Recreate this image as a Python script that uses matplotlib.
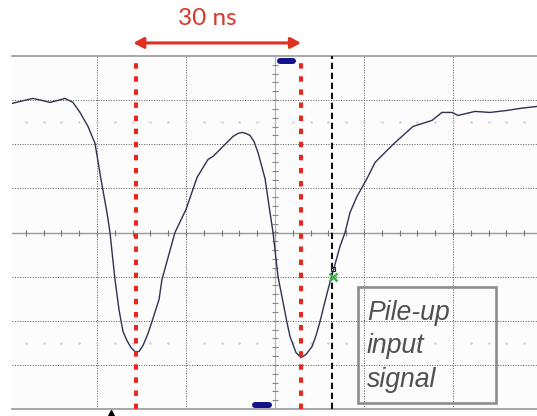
import numpy as np
import matplotlib
matplotlib.use("Agg")
import matplotlib.pyplot as plt
from matplotlib.patches import Rectangle

# scope trace in divisions (x: time div, y: volt div)
t_div = [-2.955, -2.865, -2.719, -2.618, -2.528, -2.438, -2.360, -2.270, -2.191,
         -2.101, -2.022, -1.955, -1.888, -1.854, -1.798, -1.753, -1.708, -1.663,
         -1.618, -1.573, -1.528, -1.483, -1.427, -1.382, -1.303, -1.270, -1.124,
         -1.000, -0.876, -0.753, -0.697, -0.562, -0.472, -0.416, -0.371, -0.326,
         -0.281, -0.236, -0.191, -0.112, -0.056, -0.022, 0.034, 0.135, 0.169,
         0.236, 0.292, 0.348, 0.416, 0.461, 0.506, 0.539, 0.596, 0.652, 0.730,
         0.787, 0.843, 0.921, 1.034, 1.124, 1.326, 1.551, 1.764, 1.876, 1.989,
         2.056, 2.247, 2.416, 2.607, 2.753, 2.944]
v_div = [2.925, 2.970, 3.039, 2.993, 2.948, 2.993, 3.039, 2.948, 2.721,
         2.404, 2.018, 1.202, 0.454, 0.000, -1.066, -1.746, -2.245, -2.449,
         -2.608, -2.698, -2.698, -2.562, -2.290, -2.018, -1.519, -1.066, 0.000,
         0.522, 1.247, 1.655, 1.723, 1.995, 2.177, 2.245, 2.268, 2.245,
         2.200, 2.063, 1.814, 1.224, 0.454, 0.000, -0.998, -2.041, -2.358,
         -2.721, -2.834, -2.766, -2.585, -2.336, -2.018, -1.746, -1.293, -0.884, -0.317,
         0.000, 0.454, 0.816, 1.224, 1.587, 1.995, 2.404, 2.540, 2.721, 2.721,
         2.653, 2.744, 2.721, 2.766, 2.812, 2.857]

# markers on the screen
red_cursors = [-1.562, 0.292]        # the two peaks, 30 ns apart
trigger_x = 0.64                     # black dashed cursor
cross_pt = (0.652, -0.998)           # green crossing marker
trig_tri = (-1.843, -4.08)           # small black triangle under the screen
blue_top = ([0.056, 0.202], [3.878, 3.878])
blue_bot = ([-0.225, -0.067], [-3.90, -3.90])
span_label = "30 ns"
box_lines = ["Pile-up", "input", "signal"]
box_xy = (0.933, -3.855)
box_wh = (1.55, 2.631)
line_y = [-1.973, -2.721, -3.492]

fig = plt.figure(figsize=(5.37, 4.16), dpi=100)
fig.patch.set_facecolor("white")
ax = fig.add_axes([12 / 537, 7 / 416, 525 / 537, 353 / 416])
ax.set_facecolor("#fcfcfc")
ax.set_xlim(-2.955, 2.944)
ax.set_ylim(-4, 4)
ax.set_xticks([])
ax.set_yticks([])
for s in ["left", "right"]:
    ax.spines[s].set_visible(False)
for s in ["top", "bottom"]:
    ax.spines[s].set_color("#a0a0a0")
    ax.spines[s].set_linewidth(1.3)

# graticule
for gx in [-2, -1, 1, 2]:
    ax.axvline(gx, color="#555555", lw=0.7, ls=(0, (1, 1.6)), zorder=1)
for gy in [-3, -2, -1, 1, 2, 3]:
    ax.axhline(gy, color="#555555", lw=0.7, ls=(0, (1, 1.6)), zorder=1)
ax.axhline(0, color="#9a9a9a", lw=1.0, zorder=1)
ax.axvline(0, color="#b0b0b0", lw=0.8, zorder=1)
hx = np.arange(-2.8, 3.0, 0.2)
ax.plot(hx, np.zeros_like(hx), ls="none", marker="|", ms=4, mew=0.8, color="#777777", zorder=1)
vy = np.arange(-3.8, 4.0, 0.2)
ax.plot(np.zeros_like(vy), vy, ls="none", marker="_", ms=4, mew=0.8, color="#888888", zorder=1)
for fy in [2.5, -2.5]:
    ax.plot(hx, np.full_like(hx, fy), ls="none", marker=".", ms=1.5, color="#cfcfcf", zorder=1)

# signal
ax.plot(t_div, v_div, color="#2e3350", lw=1.0, zorder=3)

# cursors
for rx in red_cursors:
    ax.axvline(rx, color="#e8281e", lw=2.9, ls=(0, (1.35, 1.9)), dash_capstyle="butt", zorder=4)
ax.axvline(trigger_x, color="#111111", lw=1.5, ls=(0, (3, 1.8)), zorder=4)

ax.plot(*blue_top, color="#12128a", lw=4.3, solid_capstyle="round", zorder=5)
ax.plot(*blue_bot, color="#12128a", lw=4.3, solid_capstyle="round", zorder=5)
ax.plot(*cross_pt, marker="x", ms=6, mew=1.8, color="#3cb043", zorder=6)
ax.plot(cross_pt[0], cross_pt[1] + 0.16, marker="s", ms=3, mfc="none", mec="#222222", mew=0.8, zorder=6)
ax.plot(*trig_tri, marker="^", ms=4.5, color="black", clip_on=False, zorder=6)

# 30 ns span arrow
ax.annotate("", xy=(red_cursors[0] - 0.03, 1.037), xytext=(red_cursors[1], 1.037),
            xycoords=("data", "axes fraction"), textcoords=("data", "axes fraction"),
            arrowprops=dict(arrowstyle="<|-|>,head_length=0.6,head_width=0.32",
                            color="#e0301f", lw=2.2, shrinkA=0, shrinkB=0),
            annotation_clip=False)
ax.text(-0.76, 1.088, span_label, transform=ax.get_xaxis_transform(),
        ha="center", va="baseline", fontsize=17.5, family="Lato", color="#d9352b")

# label box
ax.add_patch(Rectangle(box_xy, *box_wh, fill=False, edgecolor="#8c8c8c", lw=1.9, zorder=5))
for txt, ly in zip(box_lines, line_y):
    ax.text(1.034, ly, txt, ha="left", va="baseline", fontsize=19.2,
            family="Liberation Sans", style="italic", color="#505050", zorder=6)

fig.savefig("out.png", dpi=100)
